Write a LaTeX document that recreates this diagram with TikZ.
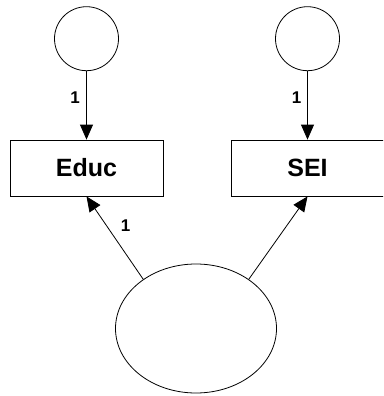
\documentclass[tikz,border=0pt]{standalone}
\usepackage{fontspec}
\setmainfont{Liberation Sans}
\usetikzlibrary{arrows.meta,shapes.geometric}
\begin{document}
\begin{tikzpicture}[x=1pt,y=-1pt,
  obs/.style={draw, line width=0.8pt, minimum width=153pt, minimum height=56pt, inner sep=0pt, font=\fontsize{25}{25}\selectfont\bfseries},
  err/.style={draw, line width=0.8pt, circle, minimum size=64pt, inner sep=0pt},
  lat/.style={draw, line width=0.8pt, ellipse, minimum width=161pt, minimum height=129pt, inner sep=0pt},
  path/.style={line width=0.8pt, -{Triangle[width=13pt,length=15pt]}},
  lbl/.style={font=\fontsize{17}{17}\selectfont\bfseries, inner sep=0pt}]
\useasboundingbox (0,0) rectangle (383,396);
\clip (0,0) rectangle (383,396);
\node[err] (e1) at (86.5,38.7) {};
\node[err] (e2) at (307.5,38.7) {};
\node[obs] (educ) at (86.5,168) {Educ};
\node[obs] (sei) at (307.5,168) {SEI};
\node[lat] (f) at (196,328.5) {};
\draw[path] (e1.south) -- (educ.north);
\draw[path] (e2.south) -- (sei.north);
\draw[path] (f.137) -- (educ.south);
\draw[path] (f.43) -- (sei.south);
\node[lbl] (l1) at (75,97.5) {1};
\node[lbl] (l2) at (296.5,97.5) {1};
\node[lbl] (l3) at (125.5,226) {1};
\end{tikzpicture}
\end{document}
